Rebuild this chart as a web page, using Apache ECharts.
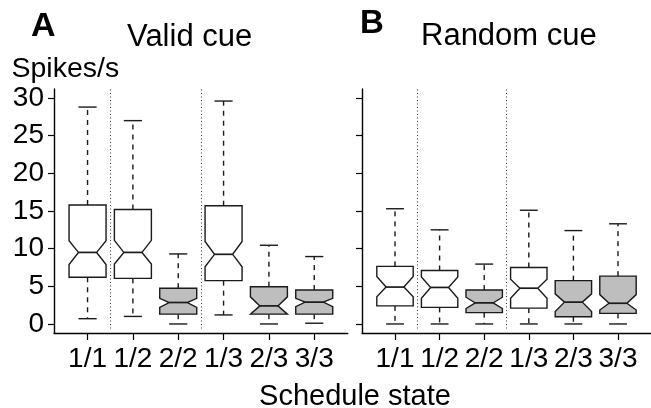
<!DOCTYPE html>
<html>
<head>
<meta charset="utf-8">
<script src="https://cdn.jsdelivr.net/npm/echarts@6/dist/echarts.min.js"></script>
<style>
  html, body { margin: 0; padding: 0; background: #fff; }
  #chart { width: 651px; height: 408px; }
</style>
</head>
<body>
<div id="chart"></div>
<script>
var myChart = echarts.init(document.getElementById('chart'));

const states = ['1/1', '1/2', '2/2', '1/3', '2/3', '3/3'];
const positions = [1, 2, 3, 4, 5, 6];
const shaded = [0, 0, 1, 0, 1, 1];
const yTicks = [0, 5, 10, 15, 20, 25, 30];
const separators = [1.5, 3.5];

// Valid cue (panel A)
const validLow = [0.7, 1.0, 0, 1.2, 0, 0.1];
const validQ1 = [6.2, 6.05, 1.3, 5.75, 1.3, 1.3];
const validNotchLow = [7.9, 7.95, 2.2, 7.6, 1.3, 2.3];
const validMedian = [9.5, 9.5, 2.85, 9.25, 2.4, 2.9];
const validNotchHigh = [11.05, 11.1, 3.4, 10.95, 3.6, 3.4];
const validQ3 = [15.8, 15.2, 4.75, 15.7, 4.95, 4.5];
const validHigh = [28.8, 27.0, 9.3, 29.6, 10.45, 8.95];

// Random cue (panel B)
const randomLow = [0, 0, 0, 0, 0, 0];
const randomQ1 = [2.4, 2.2, 1.5, 2.1, 0.95, 1.4];
const randomNotchLow = [3.6, 3.4, 2.05, 3.4, 1.65, 1.85];
const randomMedian = [4.9, 4.85, 2.8, 4.75, 2.9, 2.75];
const randomNotchHigh = [6.3, 6.25, 3.55, 5.95, 4.0, 3.9];
const randomQ3 = [7.65, 7.1, 4.5, 7.5, 5.75, 6.35];
const randomHigh = [15.3, 12.5, 7.95, 15.1, 12.4, 13.3];

const font = '"Liberation Sans", Arial, Helvetica, sans-serif';

function buildRows(lo, q1, nlo, med, nhi, q3, hi) {
  return positions.map(function (p, i) {
    return [p, lo[i], q1[i], nlo[i], med[i], nhi[i], q3[i], hi[i], shaded[i]];
  });
}

function renderBox(params, api) {
  const x = api.value(0);
  const lo = api.value(1), q1 = api.value(2), nlo = api.value(3), med = api.value(4);
  const nhi = api.value(5), q3 = api.value(6), hi = api.value(7);
  const fill = api.value(8) ? '#bebebe' : '#ffffff';
  const hw = 0.408, nw = 0.2, sw = 0.2;
  const c = function (dx, v) { return api.coord([x + dx, v]); };
  const solid = { stroke: '#1a1a1a', lineWidth: 1.4 };
  const dashed = { stroke: '#1a1a1a', lineWidth: 1.4, lineDash: [5, 5] };
  function seg(a, b, style) {
    return { type: 'line', shape: { x1: a[0], y1: a[1], x2: b[0], y2: b[1] }, style: style };
  }
  return {
    type: 'group',
    children: [
      seg(c(0, q3), c(0, hi), dashed),
      seg(c(0, q1), c(0, lo), dashed),
      seg(c(-sw, hi), c(sw, hi), solid),
      seg(c(-sw, lo), c(sw, lo), solid),
      {
        type: 'polygon',
        shape: {
          points: [c(-hw, q1), c(-hw, nlo), c(-nw, med), c(-hw, nhi), c(-hw, q3),
                   c(hw, q3), c(hw, nhi), c(nw, med), c(hw, nlo), c(hw, q1)]
        },
        style: { fill: fill, stroke: '#1a1a1a', lineWidth: 1.4 }
      },
      seg(c(-nw, med), c(nw, med), { stroke: '#1a1a1a', lineWidth: 1.7 })
    ]
  };
}

function xAxisFor(idx) {
  return {
    type: 'value',
    gridIndex: idx,
    min: 0.26,
    max: 6.74,
    axisLine: { show: true, onZero: false, lineStyle: { color: '#000', width: 1.4 } },
    axisTick: { show: true, customValues: positions, length: 7, lineStyle: { color: '#000', width: 1.2 } },
    axisLabel: {
      customValues: positions,
      formatter: function (v) { return states[Math.round(v) - 1]; },
      fontSize: 28, margin: 12, color: '#000', fontFamily: font
    },
    splitLine: { show: false }
  };
}

function yAxisFor(idx, labels) {
  return {
    type: 'value',
    gridIndex: idx,
    min: -1.2,
    max: 31.2,
    axisLine: { show: true, onZero: false, lineStyle: { color: '#000', width: 1.4 } },
    axisTick: { show: true, customValues: yTicks, length: 6, lineStyle: { color: '#000', width: 1.2 } },
    axisLabel: {
      show: labels,
      customValues: yTicks,
      fontSize: 28, margin: 10, color: '#000', fontFamily: font
    },
    splitLine: { show: false }
  };
}

function separatorLines() {
  return {
    silent: true,
    symbol: ['none', 'none'],
    label: { show: false },
    lineStyle: { color: '#333', width: 1, type: [1, 2.5] },
    data: separators.map(function (s) {
      return [{ coord: [s, -0.6] }, { coord: [s, 31.2] }];
    })
  };
}

function textItem(txt, x, y, size, weight, align) {
  return {
    type: 'text',
    x: x,
    y: y,
    style: {
      text: txt,
      font: weight + ' ' + size + 'px ' + font,
      fill: '#000',
      textAlign: align || 'left',
      textVerticalAlign: 'middle'
    }
  };
}

var option = {
  animation: false,
  backgroundColor: '#fff',
  grid: [
    { left: 54, top: 89, width: 293.8, height: 244 },
    { left: 362, top: 89, width: 294.3, height: 244 }
  ],
  xAxis: [xAxisFor(0), xAxisFor(1)],
  yAxis: [yAxisFor(0, true), yAxisFor(1, false)],
  series: [
    {
      type: 'custom',
      xAxisIndex: 0,
      yAxisIndex: 0,
      renderItem: renderBox,
      encode: { x: 0, y: [1, 2, 3, 4, 5, 6, 7] },
      data: buildRows(validLow, validQ1, validNotchLow, validMedian, validNotchHigh, validQ3, validHigh),
      markLine: separatorLines()
    },
    {
      type: 'custom',
      xAxisIndex: 1,
      yAxisIndex: 1,
      renderItem: renderBox,
      encode: { x: 0, y: [1, 2, 3, 4, 5, 6, 7] },
      data: buildRows(randomLow, randomQ1, randomNotchLow, randomMedian, randomNotchHigh, randomQ3, randomHigh),
      markLine: separatorLines()
    }
  ],
  graphic: [
    textItem('A', 31, 26.8, 34, 'bold'),
    textItem('Valid cue', 127, 37.8, 31, 'normal'),
    textItem('B', 360, 24.1, 33, 'bold'),
    textItem('Random cue', 421, 36.5, 31, 'normal'),
    textItem('Spikes/s', 11.5, 69.3, 28.5, 'normal'),
    textItem('Schedule state', 355, 396.5, 29, 'normal', 'center')
  ]
};

myChart.setOption(option);
</script>
</body>
</html>
